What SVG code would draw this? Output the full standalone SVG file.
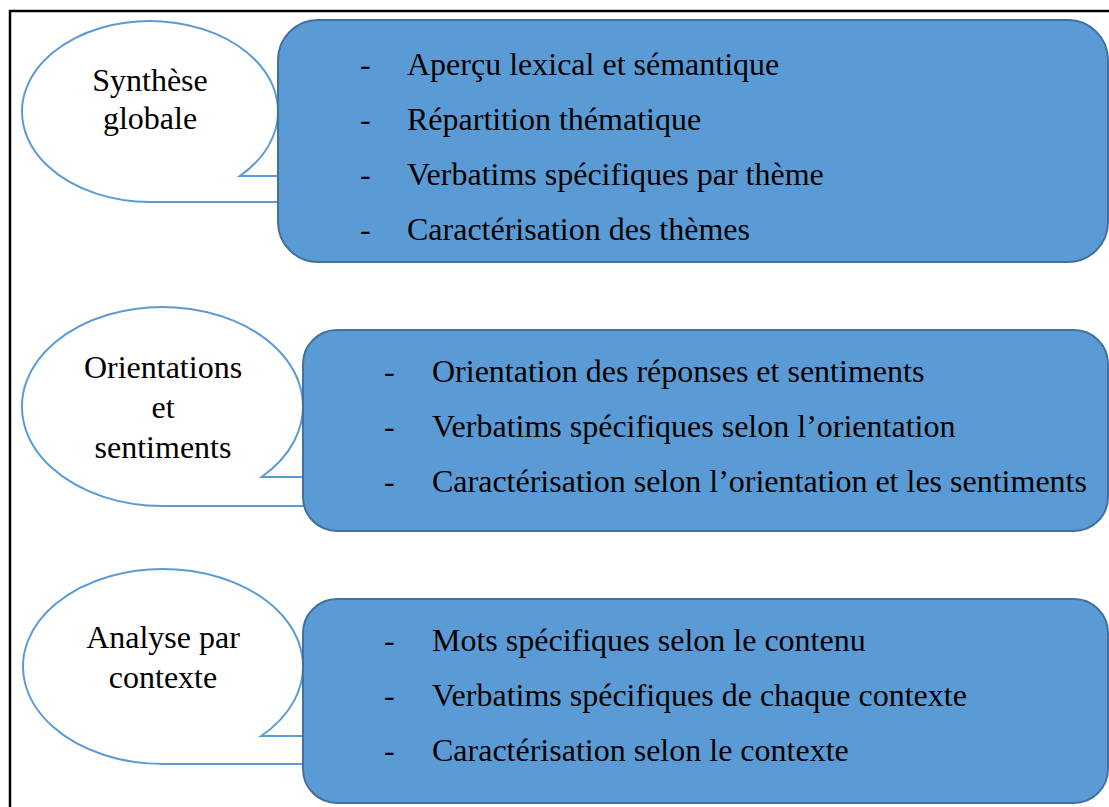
<svg xmlns="http://www.w3.org/2000/svg" width="1109" height="807" viewBox="0 0 1109 807">
<style>
.callout{fill:#ffffff;stroke:#5B9BD5;stroke-width:2}
.box{fill:#5B9BD5;stroke:#41719C;stroke-width:2}
text{font-family:"Liberation Serif","Times New Roman",serif;font-size:32px;fill:#000}
.c{text-anchor:middle}
</style>
<rect x="0" y="0" width="1109" height="807" fill="#ffffff"/>
<path d="M10,807 L10,11 L1109,11" fill="none" stroke="#000" stroke-width="2.5"/>
<g id="connectors"></g>
<g id="callout1">
<path class="callout" d="M239.8,176 A128,90.5 0 1 0 150,202 L290,202 L290,176 Z"/>
<text class="c" x="150" y="91">Synthèse</text>
<text class="c" x="150" y="129">globale</text>
</g>
<g id="box1">
<rect class="box" x="278" y="20" width="830" height="242" rx="40" ry="40"/>
<text x="360" y="75">-</text><text x="407" y="75">Aperçu lexical et sémantique</text>
<text x="360" y="130">-</text><text x="407" y="130">Répartition thématique</text>
<text x="360" y="185">-</text><text x="407" y="185">Verbatims spécifiques par thème</text>
<text x="360" y="240">-</text><text x="407" y="240">Caractérisation des thèmes</text>
</g>
<g id="callout2">
<path class="callout" d="M261.6,477 A140.5,99.5 0 1 0 162.5,506 L315,506 L315,477 Z"/>
<text class="c" x="163" y="378">Orientations</text>
<text class="c" x="163" y="418">et</text>
<text class="c" x="163" y="458">sentiments</text>
</g>
<g id="box2">
<rect class="box" x="303" y="330" width="805" height="201" rx="34" ry="34"/>
<text x="384" y="382">-</text><text x="432" y="382">Orientation des réponses et sentiments</text>
<text x="384" y="437">-</text><text x="432" y="437">Verbatims spécifiques selon l’orientation</text>
<text x="384" y="492">-</text><text x="432" y="492">Caractérisation selon l’orientation et les sentiments</text>
</g>
<g id="callout3">
<path class="callout" d="M261.2,736 A140,97.5 0 1 0 163,764 L315,764 L315,736 Z"/>
<text class="c" x="163" y="648">Analyse par</text>
<text class="c" x="163" y="688">contexte</text>
</g>
<g id="box3">
<rect class="box" x="303" y="599" width="805" height="204" rx="34" ry="34"/>
<text x="384" y="651">-</text><text x="432" y="651">Mots spécifiques selon le contenu</text>
<text x="384" y="706">-</text><text x="432" y="706">Verbatims spécifiques de chaque contexte</text>
<text x="384" y="761">-</text><text x="432" y="761">Caractérisation selon le contexte</text>
</g>
</svg>
